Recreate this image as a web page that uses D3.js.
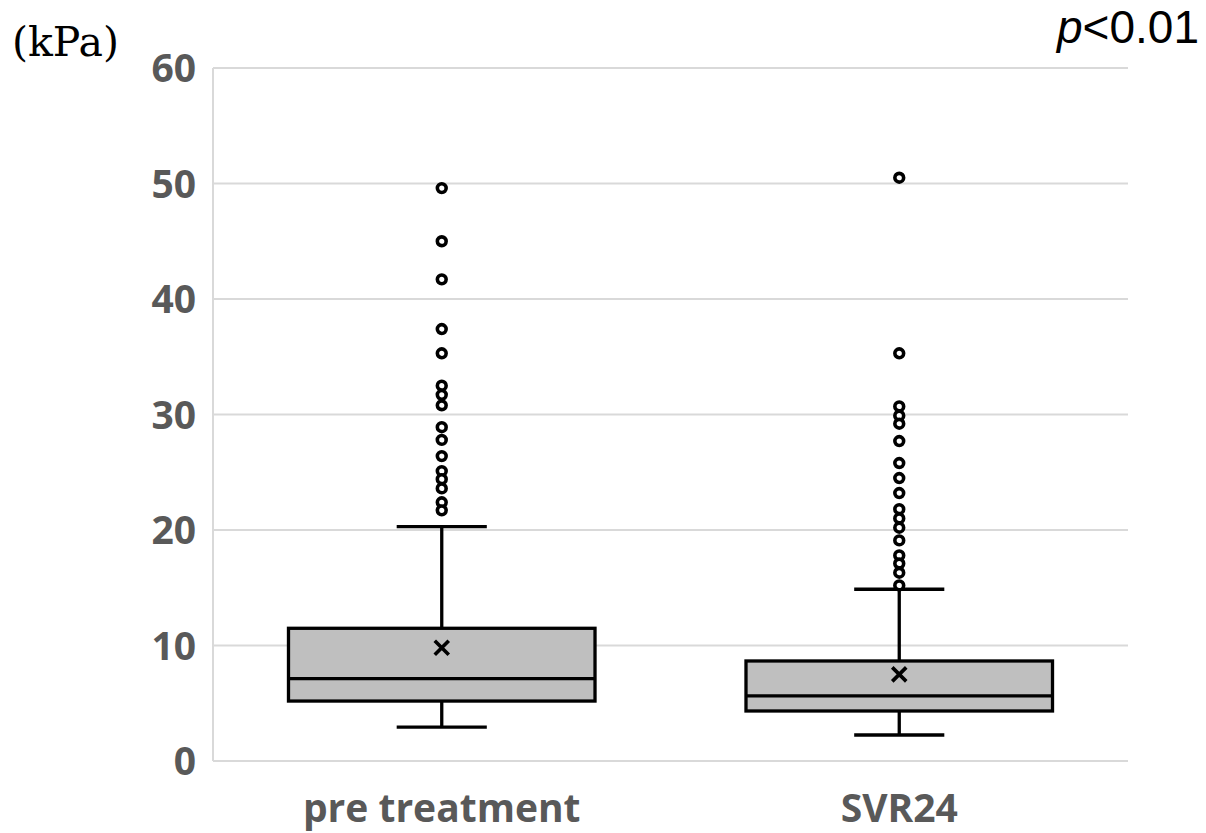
<!DOCTYPE html>
<html lang="en">
<head>
    <meta charset="UTF-8">
    <title>Liver stiffness box plot</title>
    <script src="https://d3js.org/d3.v7.min.js"></script>
    <style>
        body { margin: 0; background: #fff; }
        svg { display: block; }
        .tick-label { font-family: "Open Sans", sans-serif; font-weight: 700; fill: #595959; }
    </style>
</head>
<body>
    <div id="chart"></div>
    <script>
        // data
        const categories = ["pre treatment", "SVR24"];
        const whiskerLow = [2.94, 2.25];
        const q1 = [5.19, 4.33];
        const median = [7.13, 5.63];
        const q3 = [11.49, 8.66];
        const whiskerHigh = [20.3, 14.87];
        const means = [9.81, 7.5];
        const outliersPre = [49.6, 45.0, 41.7, 37.4, 35.3, 32.5, 31.7, 30.8, 28.9, 27.8, 26.4, 25.1, 24.4, 23.6, 22.4, 21.7];
        const outliersSvr = [50.5, 35.3, 30.7, 29.9, 29.2, 27.7, 25.8, 24.5, 23.2, 21.8, 21.0, 20.2, 19.1, 17.8, 17.1, 16.3, 15.2];
        const yTicks = [0, 10, 20, 30, 40, 50, 60];

        const W = 1206, H = 833;
        const plotL = 213, plotR = 1128, plotT = 68, plotB = 761;

        const svg = d3.select("#chart").append("svg").attr("width", W).attr("height", H);

        const y = d3.scaleLinear().domain([0, 60]).range([plotB, plotT]);
        const x = d3.scaleBand().domain(categories).range([plotL, plotR]).padding(0);
        const boxW = x.bandwidth() * 0.67;
        const capW = x.bandwidth() * 0.197;

        // gridlines
        svg.append("g").selectAll("line").data(yTicks).join("line")
            .attr("x1", plotL).attr("x2", plotR)
            .attr("y1", d => y(d)).attr("y2", d => y(d))
            .attr("stroke", "#d9d9d9").attr("stroke-width", 2);
        svg.append("line").attr("x1", plotL).attr("x2", plotL).attr("y1", plotT).attr("y2", plotB)
            .attr("stroke", "#d9d9d9").attr("stroke-width", 2);

        // y tick labels
        svg.append("g").selectAll("text").data(yTicks).join("text")
            .attr("class", "tick-label")
            .attr("x", 196).attr("y", d => y(d))
            .attr("dy", "0.36em")
            .attr("text-anchor", "end")
            .attr("font-size", 39)
            .text(d => d);

        // category labels
        svg.append("g").selectAll("text").data(categories).join("text")
            .attr("class", "tick-label")
            .attr("x", d => x(d) + x.bandwidth() / 2).attr("y", 822)
            .attr("text-anchor", "middle")
            .attr("font-size", 39)
            .text(d => d);

        const boxes = categories.map((c, i) => ({
            c, lo: whiskerLow[i], q1: q1[i], med: median[i], q3: q3[i], hi: whiskerHigh[i], mean: means[i],
            out: i === 0 ? outliersPre : outliersSvr
        }));

        const g = svg.append("g").selectAll("g").data(boxes).join("g")
            .attr("transform", d => `translate(${x(d.c) + x.bandwidth() / 2},0)`);

        const stroke = "#000", sw = 3.3;

        // whiskers
        g.append("line").attr("x1", 0).attr("x2", 0)
            .attr("y1", d => y(d.hi)).attr("y2", d => y(d.q3))
            .attr("stroke", stroke).attr("stroke-width", sw);
        g.append("line").attr("x1", 0).attr("x2", 0)
            .attr("y1", d => y(d.q1)).attr("y2", d => y(d.lo))
            .attr("stroke", stroke).attr("stroke-width", sw);
        g.append("line").attr("x1", -capW / 2).attr("x2", capW / 2)
            .attr("y1", d => y(d.hi)).attr("y2", d => y(d.hi))
            .attr("stroke", stroke).attr("stroke-width", sw);
        g.append("line").attr("x1", -capW / 2).attr("x2", capW / 2)
            .attr("y1", d => y(d.lo)).attr("y2", d => y(d.lo))
            .attr("stroke", stroke).attr("stroke-width", sw);

        // box
        g.append("rect")
            .attr("x", -boxW / 2).attr("width", boxW)
            .attr("y", d => y(d.q3)).attr("height", d => y(d.q1) - y(d.q3))
            .attr("fill", "#bfbfbf").attr("stroke", stroke).attr("stroke-width", sw);
        g.append("line").attr("x1", -boxW / 2).attr("x2", boxW / 2)
            .attr("y1", d => y(d.med)).attr("y2", d => y(d.med))
            .attr("stroke", stroke).attr("stroke-width", sw);

        // mean marker
        const m = 7;
        g.append("path")
            .attr("d", d => `M${-m},${y(d.mean) - m}L${m},${y(d.mean) + m}M${m},${y(d.mean) - m}L${-m},${y(d.mean) + m}`)
            .attr("stroke", stroke).attr("stroke-width", 3.6).attr("fill", "none");

        // outliers
        g.selectAll("circle").data(d => d.out).join("circle")
            .attr("cx", 0).attr("cy", d => y(d)).attr("r", 4.4)
            .attr("fill", "#fff").attr("stroke", stroke).attr("stroke-width", 3.6);

        // unit and p value
        svg.append("text").attr("x", 12).attr("y", 56)
            .attr("font-family", "'DejaVu Serif', serif").attr("font-size", 41).attr("fill", "#000")
            .text("(kPa)");
        const p = svg.append("text").attr("x", 1199).attr("y", 43).attr("text-anchor", "end")
            .attr("font-family", "'Liberation Sans', Arial, sans-serif").attr("font-size", 46).attr("fill", "#000");
        p.append("tspan").attr("font-style", "italic").text("p");
        p.append("tspan").text("<0.01");
    </script>
</body>
</html>
